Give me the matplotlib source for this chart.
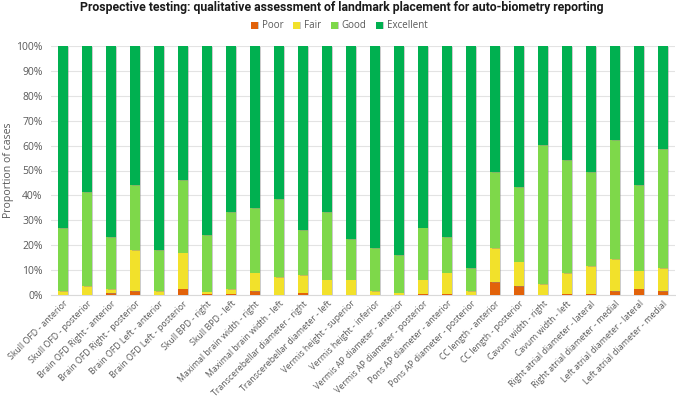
import numpy as np
import matplotlib
matplotlib.use("Agg")
import matplotlib.pyplot as plt
from matplotlib import patheffects as pe
from matplotlib.ticker import FuncFormatter, MultipleLocator

categories = [
    "Skull OFD - anterior", "Skull OFD - posterior",
    "Brain OFD Right - anterior", "Brain OFD Right - posterior",
    "Brain OFD Left - anterior", "Brain OFD Left - posterior",
    "Skull BPD - right", "Skull BPD - left",
    "Maximal brain width - right", "Maximal brain width - left",
    "Transcerebellar diameter - right", "Transcerebellar diameter - left",
    "Vermis height - superior", "Vermis height - inferior",
    "Vermis AP diameter - anterior", "Vermis AP diameter - posterior",
    "Pons AP diameter - anterior", "Pons AP diameter - posterior",
    "CC length - anterior", "CC length - posterior",
    "Cavum width - right", "Cavum width - left",
    "Right atrial diameter - lateral", "Right atrial diameter - medial",
    "Left atrial diameter - lateral", "Left atrial diameter - medial",
]

# percentages
poor = [0, 0, 0.8, 1.6, 0, 2.6, 0.6, 0.6, 1.6, 0, 0.9, 0, 0, 0, 0, 0.6, 0.6, 0,
        5.2, 3.6, 0, 0.6, 0.6, 1.6, 2.6, 1.6]
fair_top = [1.6, 3.6, 2.4, 18.0, 1.6, 17.0, 1.4, 2.4, 9.0, 7.3, 8.1, 6.2, 6.2, 1.6,
            0.9, 6.2, 9.0, 1.6, 18.9, 13.4, 4.4, 8.8, 11.6, 14.4, 9.8, 10.8]
good_top = [26.9, 41.4, 23.3, 44.0, 18.0, 46.0, 24.0, 33.3, 35.0, 38.6, 26.0, 33.3,
            22.5, 18.9, 16.0, 27.0, 23.3, 10.8, 49.4, 43.4, 60.2, 54.2, 49.4, 62.2,
            44.2, 58.6]

poor = np.array(poor)
fair = np.array(fair_top) - poor
good = np.array(good_top) - np.array(fair_top)
excellent = 100 - np.array(good_top)

series = ["Poor", "Fair", "Good", "Excellent"]
colors = ["#E2620A", "#F2E12B", "#7ED84A", "#00B050"]

plt.rcParams['font.family'] = ['Open Sans', 'DejaVu Sans']

fig = plt.figure(figsize=(6.76, 4.07), dpi=100)
ax = fig.add_axes([51/676, 1 - 295/407, 624/676, (295-46)/407])

x = np.arange(len(categories))
bottom = np.zeros(len(categories))
shadow = [pe.SimplePatchShadow(offset=(1.0, -0.5), shadow_rgbFace=(0.55, 0.55, 0.55), alpha=0.45), pe.Normal()]
handles = []
for name, vals, c in zip(series, [poor, fair, good, excellent], colors):
    b = ax.bar(x, vals, bottom=bottom, width=0.4, color=c, label=name, zorder=3)
    for r in b:
        r.set_path_effects(shadow)
    bottom = bottom + vals
    handles.append(b)

ax.set_xlim(-0.5, len(categories) - 0.5)
ax.set_ylim(0, 100)
ax.yaxis.set_major_locator(MultipleLocator(10))
ax.yaxis.set_major_formatter(FuncFormatter(lambda v, p: f"{int(v)}%"))
ax.grid(axis='y', color='#e3e3e3', linewidth=0.8, zorder=0)
for s in ['top', 'right', 'left']:
    ax.spines[s].set_visible(False)
ax.spines['bottom'].set_color('#d9d9d9')
ax.tick_params(axis='y', length=0, labelsize=7.5, labelcolor='#595959', pad=6)
ax.tick_params(axis='x', length=0, labelsize=6.3, labelcolor='#595959', pad=3)
ax.set_xticks(x)
ax.set_xticklabels(categories, rotation=45, ha='right', rotation_mode='anchor')
ax.set_ylabel("Proportion of cases", fontsize=7.6, color='#595959')
ax.yaxis.set_label_coords((14 - 51) / 624, 0.5)

fig.text(0.505, 1 - 7/407, "Prospective testing: qualitative assessment of landmark placement for auto-biometry reporting",
         ha='center', va='center', fontsize=8.8, fontweight='bold', color='#1a1a1a',
         family=['Roboto', 'DejaVu Sans'])

leg = fig.legend(handles=handles, labels=series, loc='center', bbox_to_anchor=(0.502, 1 - 26/407),
                 ncol=4, frameon=False, fontsize=7, handlelength=0.7, handleheight=0.7,
                 handletextpad=0.4, columnspacing=1.0)
for t in leg.get_texts():
    t.set_color('#595959')

fig.savefig("out.png", dpi=100)
